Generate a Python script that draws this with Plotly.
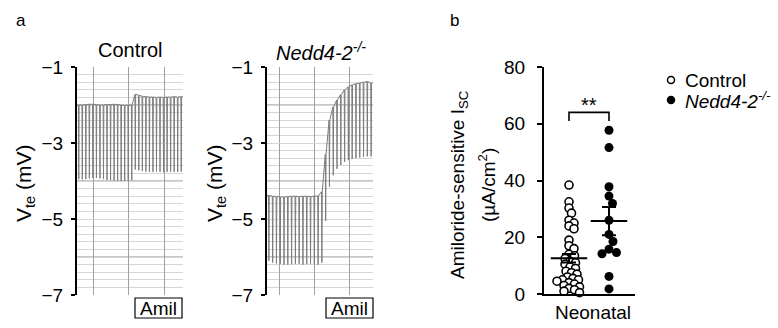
import plotly.graph_objects as go

# ---------------- data ----------------
vte_ticks = [-7, -5, -3, -1]
# Control trace: top (baseline) and bottom (pulse deflection) of each pulse, mV
ctrl_top = [-2.00, -2.00, -1.99, -1.98, -1.98, -1.99, -2.00, -2.00, -1.99, -1.99,
            -1.98, -1.99, -2.00, -2.01, -2.01, -2.00,
            -1.72, -1.74, -1.77, -1.78, -1.79, -1.79, -1.80, -1.79, -1.80, -1.79,
            -1.79, -1.78, -1.79, -1.78]
ctrl_bot = [-3.95, -3.96, -3.95, -3.93, -3.92, -3.92, -3.93, -3.95, -3.97, -3.98,
            -3.99, -4.00, -4.00, -4.00, -3.99, -3.98,
            -3.70, -3.72, -3.74, -3.75, -3.76, -3.76, -3.75, -3.76, -3.77, -3.76,
            -3.75, -3.76, -3.76, -3.75]
# Nedd4-2-/- trace
ned_top = [-4.38, -4.40, -4.41, -4.42, -4.42, -4.41, -4.40, -4.40, -4.41, -4.40,
           -4.40, -4.41, -4.40, -4.39, -4.28,
           -3.30, -2.40, -2.05, -1.87, -1.73, -1.60, -1.52, -1.47, -1.44, -1.42,
           -1.40, -1.38, -1.42]
ned_bot = [-6.10, -6.15, -6.17, -6.18, -6.20, -6.20, -6.19, -6.18, -6.18, -6.20,
           -6.19, -6.18, -6.19, -6.20, -6.15,
           -5.05, -4.15, -3.85, -3.68, -3.58, -3.50, -3.45, -3.42, -3.40, -3.38,
           -3.36, -3.35, -3.35]
major_grid_mv = [-2, -4, -6]

isc_ticks = [0, 20, 40, 60, 80]
groups = ["Control", "Nedd4-2-/-"]
ctrl_isc = [38.4, 32.5, 30.3, 28.5, 26.0, 25.0, 24.0, 23.0, 19.0, 17.0, 16.0, 14.0,
            13.5, 12.5, 11.5, 11.0, 10.5, 9.5, 9.0, 8.0, 7.5, 7.0, 6.0, 5.5, 5.0,
            5.0, 4.5, 4.0, 3.5, 3.0, 2.5, 2.0, 1.5, 1.0, 0.5]
ned_isc = [57.7, 51.6, 37.8, 34.5, 31.9, 26.0, 21.0, 18.5, 15.8, 14.6, 14.2, 6.2, 1.8]
group_means = [12.6, 25.7]
group_sems = [1.5, 5.0]
bracket_y = [64.0, 61.0]
sig_label = "**"
legend_labels = ["Control", "<i>Nedd4-2<sup>-/-</sup></i>"]
panel_titles = ["Control", "<i>Nedd4-2<sup>-/-</sup></i>"]

# ---------------- layout helpers ----------------
W, H = 778, 328
FONT = "Liberation Sans, Arial, sans-serif"


def px(x):
    return x / W


def py(y):
    return 1 - y / H


def pulse_path(top, bot):
    xs, ys = [-0.5], [top[0]]
    for i, (t, b) in enumerate(zip(top, bot)):
        xs += [i - 0.1, i, i + 0.1]
        ys += [t, b, t]
    xs.append(len(top) - 0.5)
    ys.append(top[-1])
    return xs, ys


fig = go.Figure()

trace_color = "#7c7c7c"
for k, (top, bot) in enumerate([(ctrl_top, ctrl_bot), (ned_top, ned_bot)]):
    xs, ys = pulse_path(top, bot)
    ax = "" if k == 0 else "2"
    fig.add_trace(go.Scatter(x=xs, y=ys, mode="lines", xaxis="x" + ax, yaxis="y" + ax,
                             line=dict(color=trace_color, width=1), showlegend=False,
                             hoverinfo="skip"))

# ---------------- panel b: swarm ----------------
y0px, y80px = 294, 67
ppu_y = (y0px - y80px) / 80.0
x_c, x_n = 569, 609
ppu_x = float(x_n - x_c)
xr = [(544 - x_c) / ppu_x, (635 - x_c) / ppu_x]


def swarm(values, dmin):
    placed = []
    offs = []
    for v in values:
        yv = v * ppu_y
        chosen = 0.0
        for k in range(0, 80):
            cands = [0.0] if k == 0 else [k * 0.5, -k * 0.5]
            ok = None
            for xo in cands:
                if all((xo - a) ** 2 + (yv - b) ** 2 >= dmin ** 2 for a, b in placed):
                    ok = xo
                    break
            if ok is not None:
                chosen = ok
                break
        placed.append((chosen, yv))
        offs.append(chosen / ppu_x)
    return offs


c_off = swarm(ctrl_isc, 5.6)
n_off = swarm(ned_isc, 8.0)

fig.add_trace(go.Scatter(x=[0 + o for o in c_off], y=ctrl_isc, mode="markers",
                         xaxis="x3", yaxis="y3", cliponaxis=False, showlegend=False,
                         marker=dict(size=8, color="white", line=dict(color="black", width=1.6)),
                         hoverinfo="skip"))
fig.add_trace(go.Scatter(x=[1 + o for o in n_off], y=ned_isc, mode="markers",
                         xaxis="x3", yaxis="y3", cliponaxis=False, showlegend=False,
                         marker=dict(size=9, color="black", line=dict(color="black", width=0)),
                         hoverinfo="skip"))
fig.add_trace(go.Scatter(x=[0, 1], y=group_means, mode="markers", xaxis="x3", yaxis="y3",
                         cliponaxis=False, showlegend=False, hoverinfo="skip",
                         marker=dict(symbol="line-ew", size=26, color="black",
                                     line=dict(color="black", width=2)),
                         error_y=dict(type="data", array=group_sems, visible=True,
                                      width=7, thickness=2, color="black")))

# ---------------- axes ----------------
grid_light = "#d6d6d6"
grid_v = "#a0a0a0"
common_y = dict(range=[-7, -1], tickmode="linear", tick0=-1, dtick=2,
                showline=True, linewidth=2, linecolor="black",
                ticks="outside", ticklen=4, tickwidth=2, tickcolor="black",
                showgrid=True, gridcolor=grid_light, gridwidth=1, zeroline=False,
                minor=dict(tickmode="linear", tick0=-1, dtick=0.2, showgrid=True,
                           gridcolor=grid_light, gridwidth=1),
                tickfont=dict(size=19, color="black"), ticklabelstandoff=4,
                automargin=False, fixedrange=True)

fig.update_layout(
    template="none",
    width=W, height=H, margin=dict(l=0, r=0, t=0, b=0, pad=0, autoexpand=False),
    paper_bgcolor="white", plot_bgcolor="white", showlegend=False,
    font=dict(family=FONT, color="black", size=17),
    xaxis=dict(domain=[px(77), px(183)], range=[-0.5, len(ctrl_top) - 0.5], anchor="y",
               tickmode="linear", tick0=4.03, dtick=10.1, showgrid=True, gridcolor=grid_v,
               showticklabels=False, ticks="", zeroline=False, showline=False,
               automargin=False),
    yaxis=dict(domain=[py(295), py(67)], anchor="x", **common_y),
    xaxis2=dict(domain=[px(267), px(373)], range=[-0.5, len(ned_top) - 0.5], anchor="y2",
                tickmode="linear", tick0=2.67, dtick=9.25, showgrid=True, gridcolor=grid_v,
                showticklabels=False, ticks="", zeroline=False, showline=False,
                automargin=False),
    yaxis2=dict(domain=[py(295), py(67)], anchor="x2", **common_y),
    xaxis3=dict(domain=[px(544), px(635)], range=xr, anchor="y3", showline=True,
                linewidth=2, linecolor="black", ticks="", showticklabels=False,
                showgrid=False, zeroline=False, automargin=False),
    yaxis3=dict(domain=[py(294), py(67)], range=[0, 80], anchor="x3", tickvals=isc_ticks,
                showline=True, linewidth=2, linecolor="black", ticks="outside", ticklen=5,
                tickwidth=2, tickcolor="black", showgrid=False, zeroline=False,
                tickfont=dict(size=19, color="black"), ticklabelstandoff=8,
                automargin=False),
)

shapes = []
for ax in ["", "2"]:
    for g in major_grid_mv:
        shapes.append(dict(type="line", xref="x" + ax + " domain", yref="y" + ax,
                           x0=0, x1=1, y0=g, y1=g, layer="below",
                           line=dict(color="#8c8c8c", width=1)))
# Amil boxes
for (x0, x1) in [(135, 182), (326, 373)]:
    shapes.append(dict(type="rect", xref="paper", yref="paper", x0=px(x0), x1=px(x1),
                       y0=py(318), y1=py(298), line=dict(color="black", width=1.2)))
# significance bracket
shapes.append(dict(type="path", xref="x3", yref="y3",
                   path=f"M 0,{bracket_y[1]} L 0,{bracket_y[0]} L 1,{bracket_y[0]} L 1,{bracket_y[1]}",
                   line=dict(color="black", width=1.6)))
# legend symbols
for yy, fill in [(80, "white"), (100, "black")]:
    shapes.append(dict(type="circle", xref="paper", yref="paper", xsizemode="pixel",
                       ysizemode="pixel", xanchor=px(671), yanchor=py(yy),
                       x0=-3.5, x1=3.5, y0=-3.5, y1=3.5, fillcolor=fill,
                       line=dict(color="black", width=1.5)))
fig.update_layout(shapes=shapes)

ann = []


def text(x, y, s, size, xanchor="center", angle=0):
    ann.append(dict(x=px(x), y=py(y), xref="paper", yref="paper", text=s, showarrow=False,
                    xanchor=xanchor, yanchor="middle", textangle=angle,
                    font=dict(size=size, family=FONT, color="black")))


text(21, 21, "a", 17)
text(455, 20, "b", 17)
text(130, 50, panel_titles[0], 20)
text(321, 51, panel_titles[1], 20)
text(25, 183, "V<sub>te</sub> (mV)", 21, angle=-90)
text(216, 183, "V<sub>te</sub> (mV)", 21, angle=-90)
text(158.5, 308, "Amil", 19)
text(349.5, 308, "Amil", 19)
text(459, 185, "Amiloride-sensitive I<sub>SC</sub>", 19, angle=-90)
text(487, 185, "(µA/cm<sup>2</sup>)", 19, angle=-90)
text(593, 312, "Neonatal", 19)
text(683, 80, legend_labels[0], 19, xanchor="left")
text(683, 100, legend_labels[1], 19, xanchor="left")
ann.append(dict(x=0.5, y=66.5, xref="x3", yref="y3", text=sig_label, showarrow=False,
                xanchor="center", yanchor="middle", font=dict(size=20, family=FONT)))
fig.update_layout(annotations=ann)

fig.write_html("out.html", config={"displayModeBar": False},
               post_script="document.body.style.margin='0';document.body.style.overflow='hidden';")
